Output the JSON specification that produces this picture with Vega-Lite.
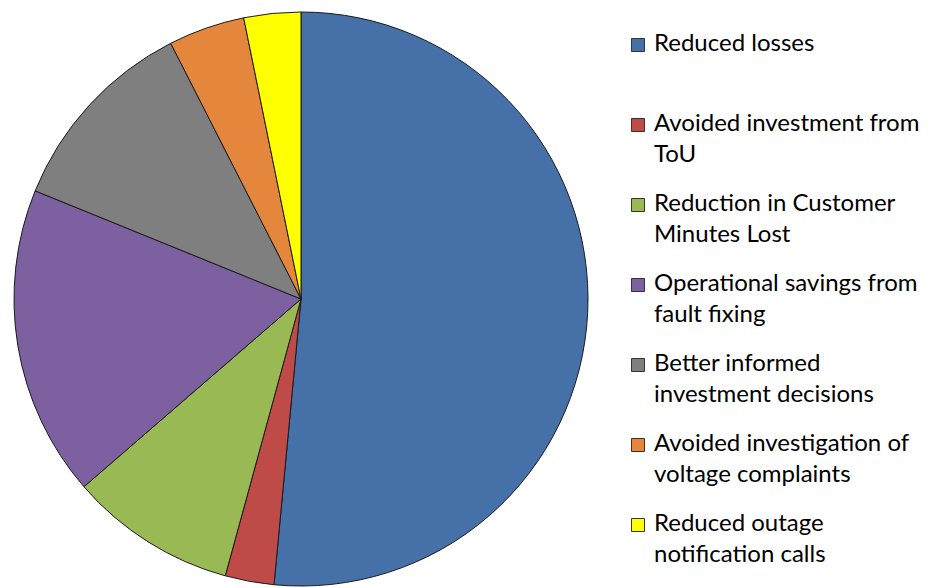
{
  "$schema": "https://vega.github.io/schema/vega-lite/v6.json",
  "width": 574,
  "height": 574,
  "padding": {"left": 12, "top": 10, "right": 5, "bottom": 4},
  "background": "white",
  "data": {
    "values": [
      {"benefit": "Reduced losses\n ", "share": 51.5, "rank": 1},
      {"benefit": "Avoided investment from\nToU", "share": 2.75, "rank": 2},
      {"benefit": "Reduction in Customer\nMinutes Lost", "share": 9.4, "rank": 3},
      {"benefit": "Operational savings from\nfault fixing", "share": 17.5, "rank": 4},
      {"benefit": "Better informed\ninvestment decisions", "share": 11.35, "rank": 5},
      {"benefit": "Avoided investigation of\nvoltage complaints", "share": 4.3, "rank": 6},
      {"benefit": "Reduced outage\nnotification calls", "share": 3.2, "rank": 7}
    ]
  },
  "mark": {"type": "arc", "stroke": "#1a1a1a", "strokeWidth": 1},
  "encoding": {
    "theta": {"field": "share", "type": "quantitative", "stack": true},
    "order": {"field": "rank", "type": "quantitative"},
    "color": {
      "field": "benefit",
      "type": "nominal",
      "sort": null,
      "scale": {
        "domain": [
          "Reduced losses\n ",
          "Avoided investment from\nToU",
          "Reduction in Customer\nMinutes Lost",
          "Operational savings from\nfault fixing",
          "Better informed\ninvestment decisions",
          "Avoided investigation of\nvoltage complaints",
          "Reduced outage\nnotification calls"
        ],
        "range": ["#4570A8", "#BE4B48", "#98B954", "#7D60A0", "#7F7F7F", "#E4863C", "#FFFF00"]
      },
      "legend": {
        "title": null,
        "orient": "none",
        "legendX": 612,
        "legendY": 8,
        "symbolType": "square",
        "symbolSize": 169,
        "symbolStrokeColor": "#333333",
        "symbolStrokeWidth": 1,
        "labelFont": "Lato",
        "labelFontSize": 24,
        "labelColor": "#000000",
        "labelLimit": 400,
        "labelOffset": 4,
        "labelBaseline": "top",
        "labelExpr": "split(datum.label, '\\n')",
        "rowPadding": 13,
        "encode": {
          "labels": {"update": {"lineHeight": {"value": 31}}},
          "symbols": {"update": {"y": {"value": 25}}}
        }
      }
    }
  },
  "config": {"view": {"stroke": null}}
}
